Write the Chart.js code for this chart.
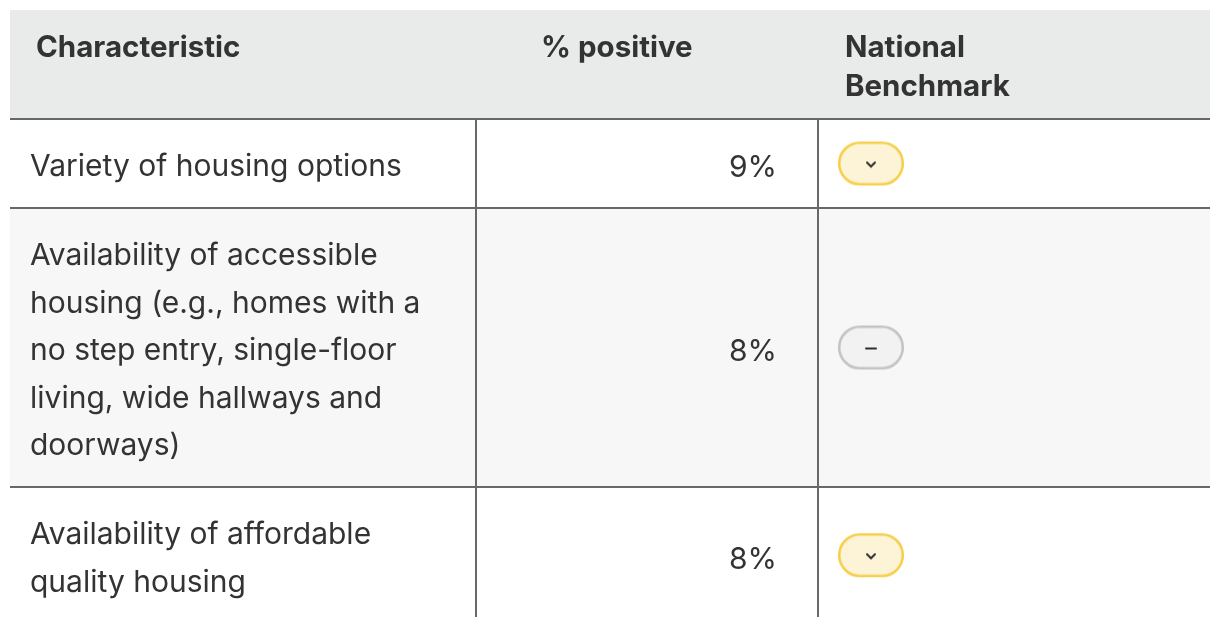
<!DOCTYPE html>
<html>
<head>
<meta charset="utf-8">
<script src="https://cdn.jsdelivr.net/npm/chart.js@4.4.1/dist/chart.umd.min.js"></script>
<style>
  html, body { margin: 0; padding: 0; background: #fff; }
  #wrap { width: 1210px; height: 617px; }
</style>
</head>
<body>
<div id="wrap"><canvas id="tableChart"></canvas></div>
<script>
/* ==========================================
   HOUSING CHARACTERISTICS TABLE — DATA
========================================== */

const headers = ['Characteristic', '% positive', 'National Benchmark'];

const characteristics = [
  'Variety of housing options',
  'Availability of accessible housing (e.g., homes with a no step entry, single-floor living, wide hallways and doorways)',
  'Availability of affordable quality housing'
];

const percentPositive = [9, 8, 8];

// below | similar | above the national benchmark
const benchmark = ['below', 'similar', 'below'];

/* ---------- LAYOUT ---------- */

const W = 1210, H = 617;
const COL_EDGES = [10, 476, 818, 1210];
const TABLE_TOP = 10;

const HEADER_FONT = 'bold 29.5px Inter';
const BODY_FONT = '30px Inter';
const HEADER_X = [36, 541, 845];
const HEADER_WRAP = [420, 260, 200];
const HEADER_LINE = 39;
const HEADER_FIRST = 47;    // first baseline below table top
const HEADER_BOTTOM = 23;   // last baseline to header bottom

const BODY_PAD_X = 20;
const BODY_WRAP = 410;
const LINE_H = 47.5;
const ROW_PAD = 41.5;
const FIRST_BASE = 57;
const PCT_RIGHT_PAD = 41;

const PILL_W = 66, PILL_H = 44, PILL_LEFT = 20;

const COLORS = {
  header: '#e9eaea',
  stripe: '#f7f7f7',
  white: '#ffffff',
  rule: '#666a66',
  text: '#333333',
  below: { fill: '#fdf4d8', stroke: '#f6d04d' },
  similar: { fill: '#f2f2f2', stroke: '#c4c4c4' },
  above: { fill: '#dff0e3', stroke: '#7cc48f' }
};

/* ---------- TEXT WRAP ---------- */

const measureCtx = document.createElement('canvas').getContext('2d');

function wrap(text, font, maxWidth) {
  measureCtx.font = font;
  const words = text.split(' ');
  const lines = [];
  let line = '';
  words.forEach(w => {
    const test = line ? line + ' ' + w : w;
    if (line && measureCtx.measureText(test).width > maxWidth) {
      lines.push(line);
      line = w;
    } else {
      line = test;
    }
  });
  if (line) lines.push(line);
  return lines;
}

/* ---------- ROW GEOMETRY (from wrapped text) ---------- */

const headerLines = headers.map((h, i) => wrap(h, HEADER_FONT, HEADER_WRAP[i]));
const headerCount = Math.max(...headerLines.map(l => l.length));
const headerBottom = TABLE_TOP + HEADER_FIRST + (headerCount - 1) * HEADER_LINE + HEADER_BOTTOM;

const rowLines = characteristics.map(c => wrap(c, BODY_FONT, BODY_WRAP));
const rows = [];
let rowTop = headerBottom;
rowLines.forEach(lines => {
  const h = lines.length * LINE_H + ROW_PAD;
  rows.push({ top: rowTop, bottom: rowTop + h, center: rowTop + h / 2, lines });
  rowTop += h;
});

/* ---------- BENCHMARK PILLS ---------- */

function makePill(kind) {
  const c = document.createElement('canvas');
  c.width = PILL_W + 2; c.height = PILL_H + 2;
  const ctx = c.getContext('2d');
  const col = COLORS[kind];
  ctx.beginPath();
  ctx.roundRect(2.2, 2.2, PILL_W - 2.4, PILL_H - 2.4, (PILL_H - 2.4) / 2);
  ctx.fillStyle = col.fill;
  ctx.fill();
  ctx.lineWidth = 2.6;
  ctx.strokeStyle = col.stroke;
  ctx.stroke();

  const cx = c.width / 2, cy = c.height / 2;
  ctx.strokeStyle = '#2e2e2e';
  ctx.lineWidth = 2;
  ctx.lineCap = 'round';
  ctx.beginPath();
  if (kind === 'similar') {
    ctx.moveTo(cx - 5, cy + 1);
    ctx.lineTo(cx + 5, cy + 1);
  } else if (kind === 'below') {
    ctx.moveTo(cx - 4, cy - 1);
    ctx.lineTo(cx, cy + 3);
    ctx.lineTo(cx + 4, cy - 1);
  } else {
    ctx.moveTo(cx - 4, cy + 3);
    ctx.lineTo(cx, cy - 1);
    ctx.lineTo(cx + 4, cy + 3);
  }
  ctx.stroke();
  return c;
}

/* ---------- TABLE PLUGIN ---------- */

const tablePlugin = {
  id: 'tablePlugin',
  beforeDatasetsDraw(chart) {
    const { ctx, scales: { x, y } } = chart;
    const px = v => x.getPixelForValue(v);
    const py = v => y.getPixelForValue(v);
    const left = px(COL_EDGES[0]), right = px(COL_EDGES[3]);

    ctx.save();

    // header band
    ctx.fillStyle = COLORS.header;
    ctx.fillRect(left, py(TABLE_TOP), right - left, py(headerBottom) - py(TABLE_TOP));

    // row bands
    rows.forEach((r, i) => {
      ctx.fillStyle = i % 2 ? COLORS.stripe : COLORS.white;
      ctx.fillRect(left, py(r.top), right - left, py(r.bottom) - py(r.top));
    });

    // header text
    ctx.fillStyle = COLORS.text;
    ctx.font = HEADER_FONT;
    ctx.textBaseline = 'alphabetic';
    ctx.textAlign = 'left';
    headerLines.forEach((lines, i) => {
      lines.forEach((l, j) => {
        ctx.fillText(l, px(HEADER_X[i]), py(TABLE_TOP + HEADER_FIRST + j * HEADER_LINE));
      });
    });

    // body text
    ctx.font = BODY_FONT;
    rows.forEach((r, i) => {
      r.lines.forEach((l, j) => {
        ctx.textAlign = 'left';
        ctx.fillText(l, px(COL_EDGES[0] + BODY_PAD_X), py(r.top + FIRST_BASE + j * LINE_H));
      });
      ctx.textAlign = 'right';
      ctx.fillText(percentPositive[i] + '%', px(COL_EDGES[2] - PCT_RIGHT_PAD), py(r.center + 13.5));
    });

    // rules
    ctx.fillStyle = COLORS.rule;
    [headerBottom, ...rows.slice(0, -1).map(r => r.bottom)].forEach(v => {
      ctx.fillRect(left, Math.round(py(v)) - 1, right - left, 2);
    });
    [COL_EDGES[1], COL_EDGES[2]].forEach(v => {
      ctx.fillRect(Math.round(px(v)) - 1, py(headerBottom), 2, chart.chartArea.bottom - py(headerBottom));
    });

    ctx.restore();
  }
};

/* ---------- CHART ---------- */

new Chart(document.getElementById('tableChart'), {
  type: 'scatter',
  data: {
    datasets: [{
      label: 'National Benchmark',
      data: benchmark.map((b, i) => ({ x: COL_EDGES[2] + PILL_LEFT + PILL_W / 2, y: rows[i].center })),
      pointStyle: benchmark.map(makePill),
      pointRadius: PILL_W / 2,
      clip: false
    }]
  },
  options: {
    responsive: true,
    maintainAspectRatio: false,
    animation: false,
    events: [],
    layout: { padding: 0, autoPadding: false },
    plugins: { legend: { display: false }, tooltip: { enabled: false } },
    scales: {
      x: { type: 'linear', min: 0, max: W, display: false },
      y: { type: 'linear', min: 0, max: H, reverse: true, display: false }
    }
  },
  plugins: [tablePlugin]
});
</script>
</body>
</html>
